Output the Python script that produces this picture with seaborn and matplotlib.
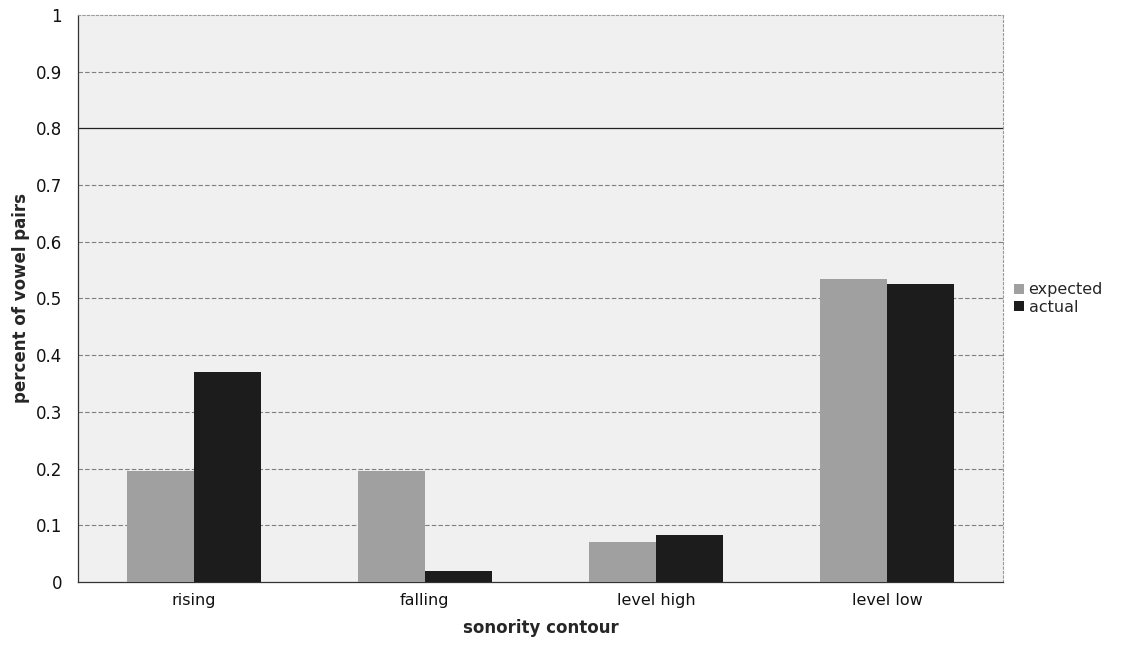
import matplotlib
matplotlib.use("Agg")
import matplotlib.pyplot as plt
import seaborn as sns
import pandas as pd

categories = ["rising", "falling", "level high", "level low"]
series_names = ["expected", "actual"]
expected = [0.195, 0.195, 0.07, 0.535]
actual = [0.37, 0.02, 0.083, 0.525]
y_ticks = [0, 0.1, 0.2, 0.3, 0.4, 0.5, 0.6, 0.7, 0.8, 0.9, 1]
y_tick_labels = ["0", "0.1", "0.2", "0.3", "0.4", "0.5", "0.6", "0.7", "0.8", "0.9", "1"]

df = pd.DataFrame({
    "contour": categories * 2,
    "series": [series_names[0]] * len(categories) + [series_names[1]] * len(categories),
    "value": expected + actual,
})

sns.set_theme(style="white")
plt.rcParams["font.family"] = ["DejaVu Sans"]

fig = plt.figure(figsize=(11.25, 6.48), dpi=100)
ax = fig.add_axes([0.0693, 0.1019, 0.8223, 0.8751])
ax.set_facecolor("#f0f0f0")

sns.barplot(data=df, x="contour", y="value", hue="series", order=categories,
            hue_order=series_names, palette=["#a0a0a0", "#1c1c1c"],
            width=0.58, gap=0, saturation=1, linewidth=0, ax=ax,
            legend=True, zorder=3)

ax.set_ylim(0, 1)
ax.set_xlim(-0.5, len(categories) - 0.5)
ax.set_yticks(y_ticks)
ax.set_yticklabels(y_tick_labels)
for t in y_ticks[1:-1]:
    if abs(t - 0.8) < 1e-9:
        ax.axhline(t, color="#222222", lw=0.9, zorder=1)
    else:
        ax.axhline(t, color="#808080", lw=0.8, ls=(0, (4, 2)), zorder=1)

for side in ["top", "right"]:
    ax.spines[side].set_color("#999999")
    ax.spines[side].set_linestyle((0, (2, 2)))
    ax.spines[side].set_linewidth(0.8)
for side in ["left", "bottom"]:
    ax.spines[side].set_color("#333333")
    ax.spines[side].set_linewidth(0.9)

ax.tick_params(axis="both", length=0, colors="#111111")
ax.tick_params(axis="y", pad=11.5, labelsize=12)
ax.tick_params(axis="x", pad=8, labelsize=11.5)
ax.set_xlabel("sonority contour", fontsize=12, fontweight="bold", labelpad=8)
ax.set_ylabel("percent of vowel pairs", fontsize=12, fontweight="bold", labelpad=4)

leg = ax.legend(loc="center left", bbox_to_anchor=(1.0, 0.5), frameon=False,
                fontsize=11.5, handlelength=0.6, handleheight=0.6,
                handletextpad=0.3, labelspacing=0.15, borderaxespad=0.3)

fig.savefig("out.png", dpi=100)
